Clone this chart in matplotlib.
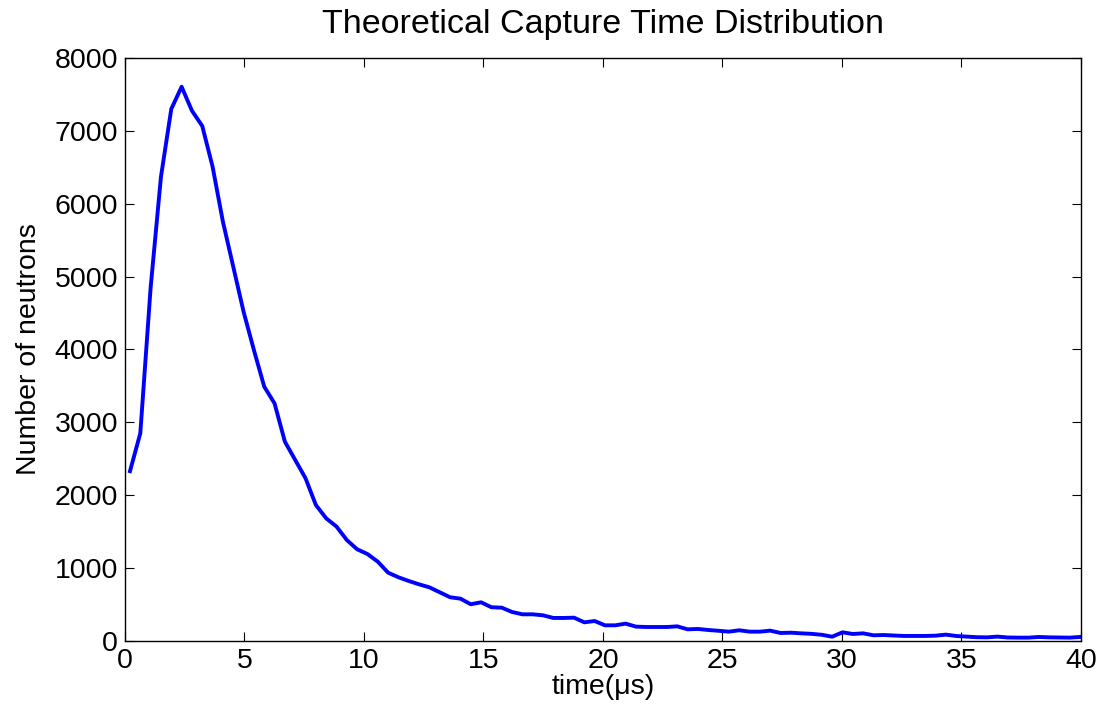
import numpy as np
import matplotlib
matplotlib.use('Agg')
import matplotlib.pyplot as plt

# capture time grid (bin centres, us) and neutron counts
t_start, t_end, n_bins = 0.21, 39.96, 93
counts = [2330, 2850, 4850, 6370, 7300, 7605, 7276, 7066, 6508, 5753,
          5136, 4518, 3993, 3490, 3260, 2735, 2484, 2233, 1866, 1683,
          1570, 1385, 1258, 1193, 1088, 937, 874, 823, 777, 736,
          668, 600, 581, 504, 531, 463, 457, 398, 366, 366,
          352, 316, 316, 320, 256, 274, 215, 215, 238, 197,
          192, 192, 192, 201, 160, 165, 151, 140, 128, 147,
          128, 128, 142, 110, 114, 105, 98, 85, 59, 119,
          96, 105, 78, 82, 75, 69, 69, 69, 73, 87,
          69, 60, 52, 50, 60, 48, 46, 46, 55, 50,
          48, 46, 55]
time = np.linspace(t_start, t_end, n_bins)

plt.rcParams['font.family'] = ['Liberation Sans', 'DejaVu Sans']

fig = plt.figure(figsize=(11.01, 7.13), dpi=100)
ax = fig.add_axes([0.1135, 0.101, 0.8683, 0.8177])
ax.plot(time, counts, color='#0000ff', linewidth=2.8)

ax.set_xlim(0, 40)
ax.set_ylim(0, 8000)
ax.set_xticks(np.arange(0, 41, 5))
ax.set_yticks(np.arange(0, 8001, 1000))
ax.tick_params(direction='in', top=True, right=True, length=6.5, width=0.8,
               labelsize=20.5, pad=5)
for s in ax.spines.values():
    s.set_linewidth(1.0)

ax.set_title('Theoretical Capture Time Distribution', fontsize=24.5, pad=18)
ax.set_xlabel('time(\u03bcs)', fontsize=20.5, labelpad=0)
ax.set_ylabel('Number of neutrons', fontsize=20.5, labelpad=9)

fig.savefig('out.png', dpi=100)
